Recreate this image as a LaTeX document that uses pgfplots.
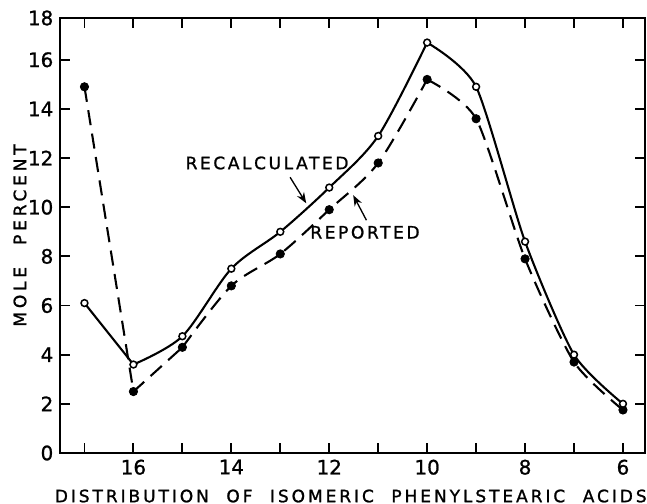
\documentclass[border=0pt]{standalone}
\usepackage{fontspec}
\setmainfont{DejaVu Sans}
\newfontfamily\xlblfont[LetterSpace=17, WordSpace=2.1, FakeBold=1.2]{DejaVu Sans}
\newfontfamily\ylblfont[LetterSpace=22, WordSpace=2.4, FakeBold=1.2]{DejaVu Sans}
\newfontfamily\notefont[LetterSpace=15, FakeBold=1.2]{DejaVu Sans}
\newfontfamily\tickfont[FakeBold=1]{DejaVu Sans}
\usepackage{pgfplots}
\pgfplotsset{compat=1.18}
\usetikzlibrary{arrows.meta, calc}

% one pixel of the 647x504 reference
\newlength{\px}
\setlength{\px}{0.018547cm}

\begin{document}
\begin{tikzpicture}
\begin{axis}[
  scale only axis,
  width=585\px, height=435\px,
  x dir=reverse,
  xmin=5.55, xmax=17.5,
  ymin=0, ymax=17.7,
  xtick={6,8,...,16}, minor xtick={7,9,...,17},
  ytick={0,2,...,16},
  extra y ticks={17.7}, extra y tick labels={18},
  extra tick style={major tick length=0pt},
  tick align=inside,
  major tick length=0.19cm, minor tick length=0.19cm,
  axis line style={line width=1.1pt},
  every tick/.style={line width=1pt, black},
  /pgf/number format/assume math mode=true,
  tick label style={font=\fontsize{10.5}{12}\tickfont},
  xlabel={\xlblfont DISTRIBUTION OF ISOMERIC PHENYLSTEARIC ACIDS},
  ylabel={\ylblfont MOLE PERCENT},
  label style={font=\fontsize{9}{11}\selectfont},
  xlabel style={at={(axis description cs:0.497,-0.0989)}, anchor=center},
  ylabel style={at={(axis description cs:-0.0684,0.50)}, anchor=center},
  clip=false,
]
\coordinate (sw) at (rel axis cs:0,0);
\coordinate (ne) at (rel axis cs:1,1);
% recalculated
\addplot[black, line width=1.1pt] coordinates {(17,6.1) (16,3.6)};
\addplot[black, line width=1.1pt, smooth] coordinates {
  (16,3.6) (15,4.75) (14,7.5) (13,9.0) (12,10.8) (11,12.9) (10,16.7)};
\addplot[black, line width=1.1pt, smooth, tension=0.4] coordinates {
  (10,16.7) (9,14.9) (8,8.6) (7,4.0) (6,2.0)};
% reported
\addplot[black, line width=1.1pt, dash pattern=on 8pt off 4.5pt] coordinates {
  (17,14.9) (16,2.5) (15,4.3)};
\addplot[black, line width=1.1pt, dash pattern=on 8pt off 4.5pt, smooth] coordinates {
  (15,4.3) (14,6.8) (13,8.1) (12,9.9) (11,11.8) (10,15.2)};
\addplot[black, line width=1.1pt, dash pattern=on 8pt off 4.5pt, smooth, tension=0.4] coordinates {
  (10,15.2) (9,13.6) (8,7.9) (7,3.7) (6,1.75)};
% markers
\addplot[only marks, mark=*, mark size=2.2pt, black] coordinates {
  (17,14.9) (16,2.5) (15,4.3) (14,6.8) (13,8.1) (12,9.9) (11,11.8)
  (10,15.2) (9,13.6) (8,7.9) (7,3.7) (6,1.75)};
\addplot[only marks, mark=*, mark size=1.8pt, mark options={fill=white, draw=black, line width=0.8pt}] coordinates {
  (17,6.1) (16,3.6) (15,4.75) (14,7.5) (13,9.0) (12,10.8) (11,12.9)
  (10,16.7) (9,14.9) (8,8.6) (7,4.0) (6,2.0)};
% annotations
\node[font=\fontsize{9}{11}\notefont] at (axis cs:13.27,11.8) {RECALCULATED};
\draw[-{Stealth[length=2mm]}, line width=0.7pt] (axis cs:12.8,11.22) -- (axis cs:12.47,10.16);
\node[font=\fontsize{9}{11}\notefont] at (axis cs:11.27,8.98) {REPORTED};
\draw[-{Stealth[length=2mm]}, line width=0.7pt] (axis cs:11.24,9.47) -- (axis cs:11.51,10.49);
\end{axis}
\pgfresetboundingbox
\path ($(sw)+(-60\px,-51\px)$) rectangle ($(ne)+(2\px,18\px)$);
\end{tikzpicture}
\end{document}
